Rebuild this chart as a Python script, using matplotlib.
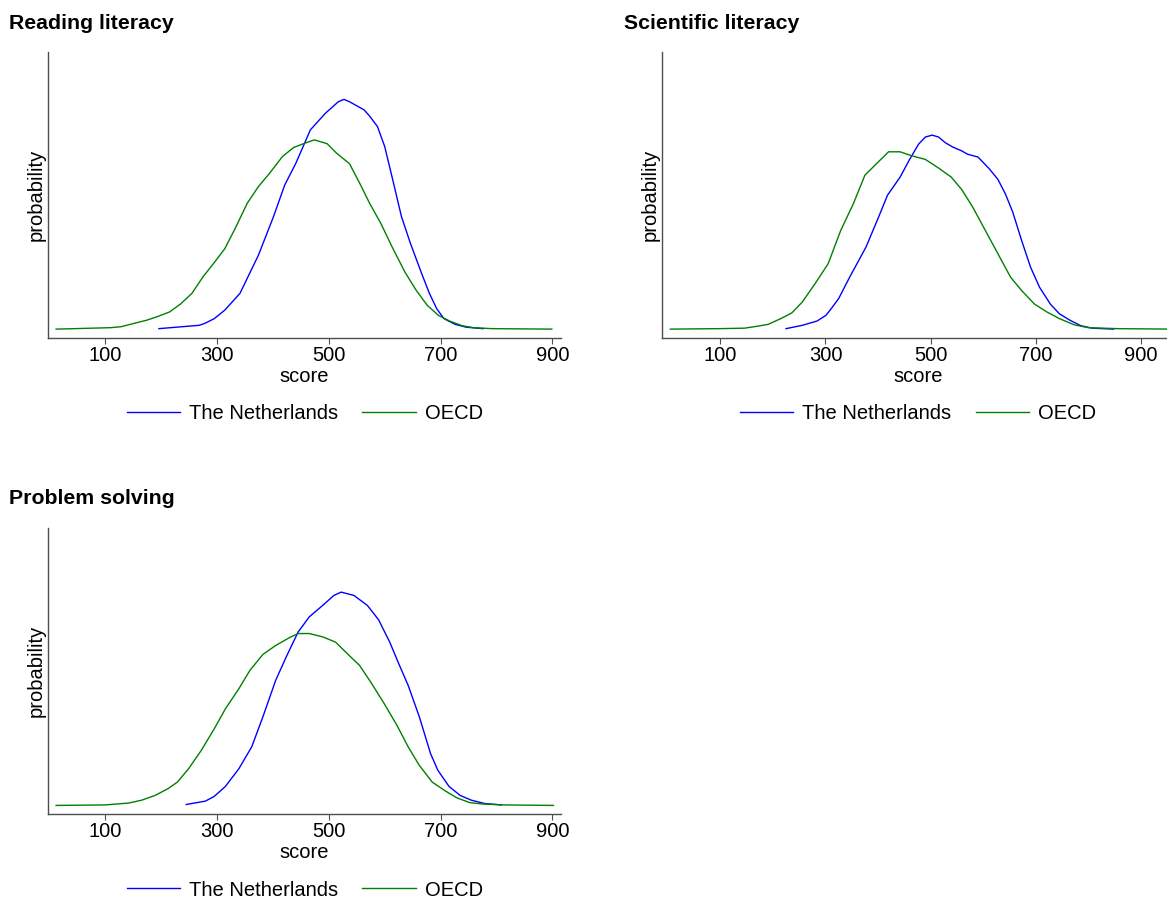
import matplotlib
matplotlib.use("Agg")
import matplotlib.pyplot as plt

plt.rcParams['font.family'] = ['Liberation Sans', 'DejaVu Sans']

# ---------------- data (density x 1000) ----------------
read_nl_x = [196, 268, 278, 295, 314, 341, 374, 401, 421, 441, 467, 494, 517, 527, 537,
             563, 573, 587, 600, 613, 630, 646, 666, 680, 693, 706, 726, 746, 776]
read_nl_y = [0.01, 0.08, 0.12, 0.22, 0.40, 0.75, 1.55, 2.36, 3.02, 3.48, 4.18, 4.53, 4.77, 4.82, 4.77,
             4.60, 4.47, 4.25, 3.83, 3.20, 2.36, 1.80, 1.17, 0.75, 0.43, 0.22, 0.10, 0.04, 0.01]
read_oecd_x = [12, 109, 128, 148, 175, 195, 215, 235, 255, 275, 294, 314, 334, 354, 374, 394,
               417, 437, 457, 474, 497, 514, 537, 557, 573, 593, 613, 636, 656, 676, 696, 716,
               739, 759, 792, 899]
read_oecd_y = [0.00, 0.03, 0.05, 0.11, 0.19, 0.27, 0.36, 0.53, 0.75, 1.10, 1.38, 1.69, 2.15, 2.64,
               2.99, 3.27, 3.62, 3.81, 3.90, 3.97, 3.89, 3.69, 3.47, 3.02, 2.64, 2.22, 1.73, 1.20,
               0.82, 0.50, 0.29, 0.17, 0.07, 0.03, 0.01, 0.00]

sci_nl_x = [225, 256, 284, 301, 311, 325, 346, 377, 401, 418, 442, 459, 477, 490, 503, 515, 528,
            542, 559, 570, 590, 611, 628, 642, 656, 673, 690, 707, 728, 745, 766, 786, 807, 848]
sci_nl_y = [0.01, 0.08, 0.17, 0.29, 0.43, 0.64, 1.09, 1.72, 2.35, 2.81, 3.19, 3.54, 3.88, 4.03,
            4.07, 4.03, 3.91, 3.82, 3.74, 3.67, 3.61, 3.37, 3.14, 2.84, 2.46, 1.86, 1.30, 0.88,
            0.52, 0.32, 0.18, 0.07, 0.02, 0.00]
sci_oecd_x = [5, 98, 146, 170, 191, 215, 236, 256, 280, 305, 329, 353, 375, 397, 420, 442, 463,
              490, 515, 539, 559, 580, 604, 628, 652, 673, 697, 721, 745, 773, 800, 855, 960]
sci_oecd_y = [0.00, 0.01, 0.02, 0.06, 0.10, 0.22, 0.34, 0.57, 0.95, 1.37, 2.07, 2.63, 3.23, 3.47,
              3.72, 3.72, 3.64, 3.56, 3.38, 3.19, 2.93, 2.56, 2.07, 1.58, 1.09, 0.81, 0.53, 0.36,
              0.22, 0.09, 0.03, 0.01, 0.00]

prob_nl_x = [245, 279, 295, 315, 339, 362, 382, 405, 425, 445, 465, 489, 509, 522, 545, 569, 589,
             609, 625, 642, 662, 682, 695, 715, 735, 755, 779, 809]
prob_nl_y = [0.02, 0.09, 0.19, 0.40, 0.77, 1.23, 1.86, 2.63, 3.15, 3.64, 3.96, 4.20, 4.41, 4.48,
             4.41, 4.20, 3.90, 3.43, 2.98, 2.52, 1.86, 1.09, 0.74, 0.40, 0.21, 0.11, 0.04, 0.01]
prob_oecd_x = [12, 99, 142, 165, 189, 212, 229, 249, 272, 295, 315, 339, 359, 382, 405, 429, 445,
               465, 489, 512, 532, 555, 575, 599, 622, 642, 662, 685, 709, 729, 752, 775, 815, 902]
prob_oecd_y = [0.00, 0.01, 0.05, 0.11, 0.21, 0.35, 0.49, 0.77, 1.16, 1.61, 2.03, 2.45, 2.84, 3.17,
               3.36, 3.52, 3.61, 3.61, 3.54, 3.43, 3.20, 2.94, 2.59, 2.14, 1.68, 1.23, 0.84, 0.49,
               0.30, 0.16, 0.06, 0.03, 0.01, 0.00]

titles = ["Reading literacy", "Scientific literacy", "Problem solving"]
series_labels = ["The Netherlands", "OECD"]
tick_values = [100, 300, 500, 700, 900]
x_label = "score"
y_label = "probability"

# ---------------- layout ----------------
W, H = 1167, 899
fig = plt.figure(figsize=(W / 100, H / 100), dpi=100)

FS = 14.5
BLUE = "#0000ff"
GREEN = "#008000"
AXC = "#4d4d4d"

panels = [
    # (left_px, top_px, right_px, bottom_px, xlim, title_xy, data)
    (48, 51.7, 561.3, 337.7, (-2.5, 916), (9, 23.3), (read_nl_x, read_nl_y, read_oecd_x, read_oecd_y)),
    (662.3, 51.7, 1182, 337.7, (-10.3, 978), (624, 23.3), (sci_nl_x, sci_nl_y, sci_oecd_x, sci_oecd_y)),
    (48, 528.3, 561.3, 814, (-2.5, 916), (9, 498.3), (prob_nl_x, prob_nl_y, prob_oecd_x, prob_oecd_y)),
]

for i, (l, t, r, b, xlim, txy, d) in enumerate(panels):
    ax = fig.add_axes([l / W, 1 - b / H, (r - l) / W, (b - t) / H])
    nx, ny, ox, oy = d
    ax.plot(nx, ny, color=BLUE, lw=1.0, label=series_labels[0])
    ax.plot(ox, oy, color=GREEN, lw=1.0, label=series_labels[1])
    ax.set_xlim(*xlim)
    ax.set_ylim(-0.18, 5.82)
    ax.set_xticks(tick_values)
    ax.set_xticklabels([str(v) for v in tick_values])
    ax.set_yticks([])
    for s in ["top", "right"]:
        ax.spines[s].set_visible(False)
    for s in ["left", "bottom"]:
        ax.spines[s].set_color(AXC)
        ax.spines[s].set_linewidth(1.0)
    ax.tick_params(axis="x", length=4, width=0.8, color=AXC, labelsize=FS, pad=2)
    hpx = b - t
    wpx = r - l
    cx = 0.5 if i != 1 else (918 - l) / wpx
    ax.text(cx, -39.0 / hpx, x_label,
            transform=ax.transAxes, ha="center", va="center", fontsize=FS)
    ax.text(-12.0 / wpx, 0.5, y_label, rotation=90,
            transform=ax.transAxes, ha="center", va="center", fontsize=FS)
    ax.legend(loc="center", bbox_to_anchor=(cx, -76.0 / hpx), ncol=2, frameon=False,
              fontsize=FS, handlelength=2.65, handletextpad=0.45, columnspacing=1.2,
              borderpad=0, borderaxespad=0)
    fig.text(txy[0] / W, 1 - txy[1] / H, titles[i], fontsize=15.3, fontweight="bold",
             ha="left", va="center")

fig.savefig("out.png", dpi=100)
